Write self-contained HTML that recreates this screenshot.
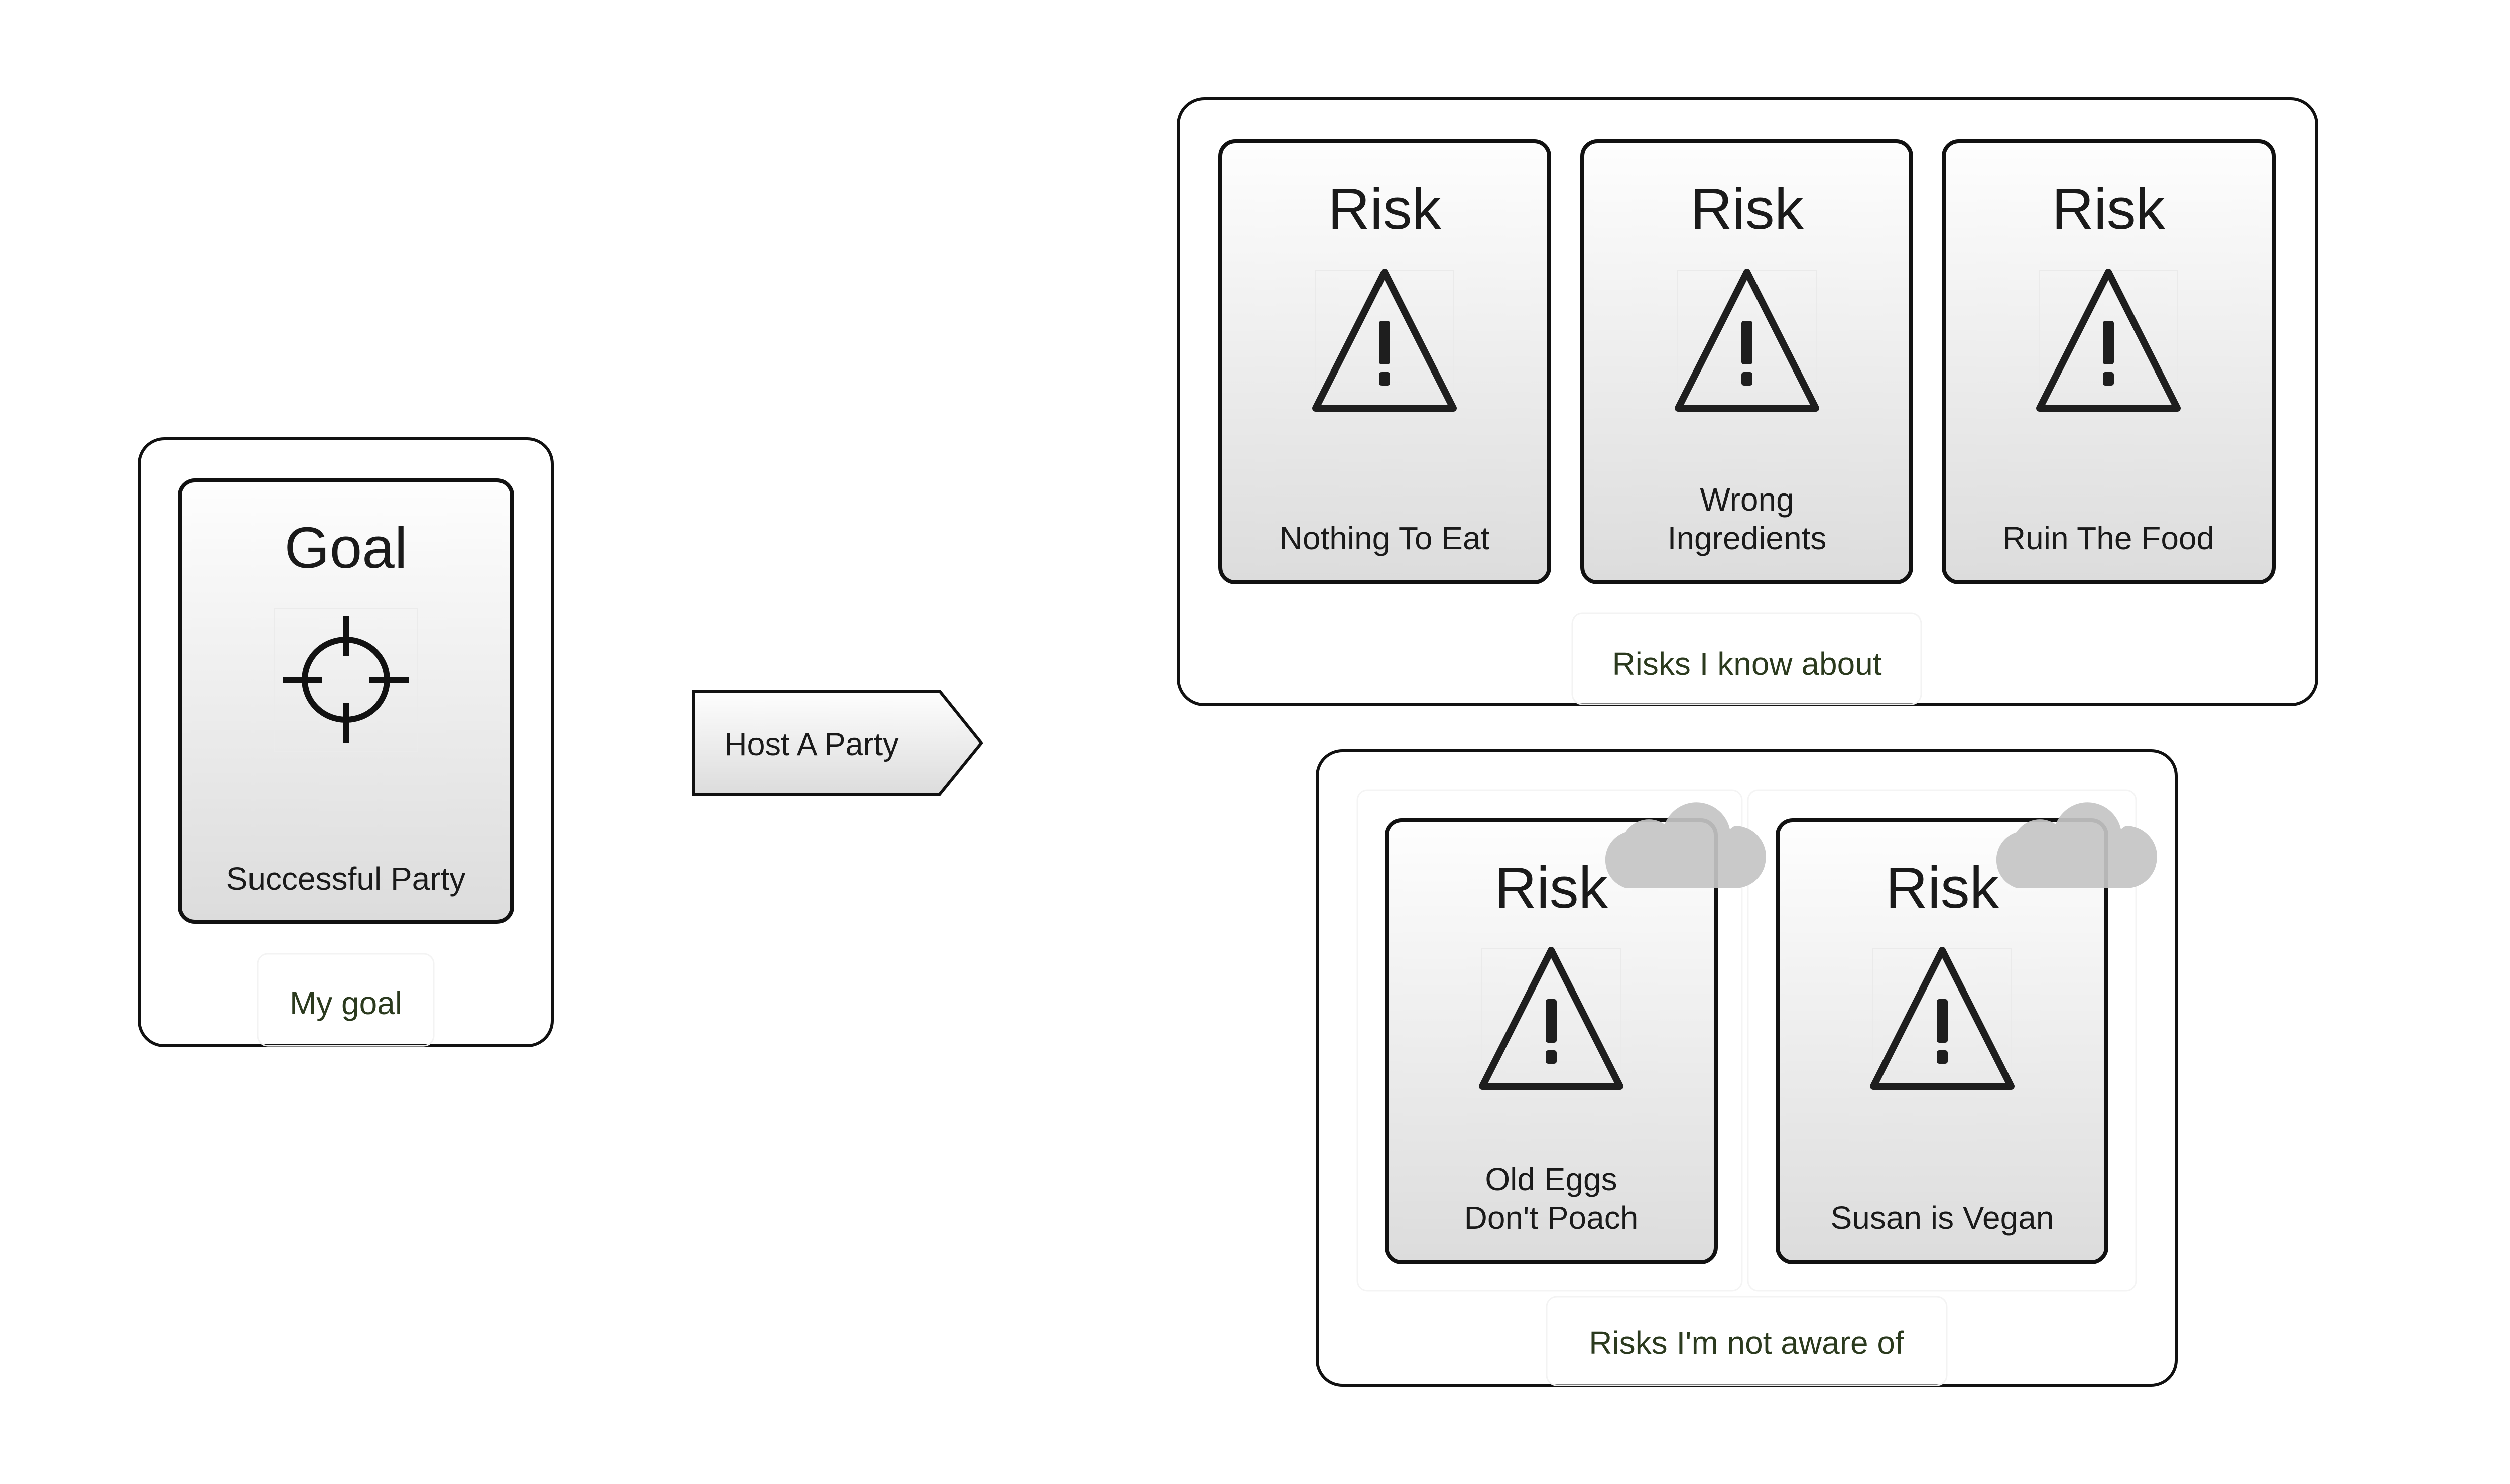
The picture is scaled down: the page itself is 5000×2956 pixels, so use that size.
<!DOCTYPE html>
<html><head><meta charset="utf-8"><style>
html,body{margin:0;padding:0;background:#fff;}
svg{display:block;}
text{font-family:"Liberation Sans",sans-serif;}
</style></head><body>
<svg width="5000" height="2956" viewBox="0 0 5000 2956" xmlns="http://www.w3.org/2000/svg">
<defs>
<linearGradient id="g" x1="0" y1="0" x2="0" y2="1">
<stop offset="0" stop-color="#fefefe"/><stop offset="1" stop-color="#dcdcdc"/>
</linearGradient>
<g id="tri">
<rect x="-138" y="-4" width="276" height="275" fill="none" stroke="#eaeaea" stroke-width="2"/>
<polygon points="0,0 137,271 -137,271" fill="none" stroke="#1e1e1e" stroke-width="14" stroke-linejoin="round"/>
<rect x="-11" y="97" width="22" height="87" rx="5" fill="#1e1e1e"/>
<rect x="-11" y="199" width="22" height="27" rx="5" fill="#1e1e1e"/>
</g>
<g id="cloud" fill="#c4c4c4" fill-opacity="0.92">
<path d="M484,147 L700,147 A62,62 0 0 0 700,23 A56,56 0 0 0 690,30 A68,68 0 0 0 560,20 A55,55 0 0 0 482,36 A58,58 0 0 0 484,147 Z"/>
</g>
</defs>

<!-- Goal group -->
<rect x="277" y="874" width="823" height="1209" rx="50" fill="#fff" stroke="#111" stroke-width="6"/>
<rect x="358" y="957" width="662" height="879" rx="30" fill="url(#g)" stroke="#111" stroke-width="8"/>
<text x="689" y="1131" font-size="116" text-anchor="middle" fill="#1a1a1a">Goal</text>
<rect x="547" y="1212" width="284" height="284" fill="none" stroke="#ebebeb" stroke-width="2"/>
<ellipse cx="689" cy="1354" rx="82" ry="80" fill="none" stroke="#111" stroke-width="12"/>
<path d="M564,1354 H642 M736,1354 H815 M689,1228 V1306 M689,1400 V1479" stroke="#111" stroke-width="12"/>
<text x="689" y="1772" font-size="64" text-anchor="middle" fill="#1a1a1a">Successful Party</text>
<rect x="513" y="1900" width="351" height="183" rx="20" fill="none" stroke="#f3f3f3" stroke-width="3"/>
<text x="689" y="2020" font-size="64" text-anchor="middle" fill="#2b3a1e">My goal</text>

<!-- Arrow -->
<polygon points="1381,1377 1872,1377 1955,1480 1872,1582 1381,1582" fill="url(#g)" stroke="#111" stroke-width="6"/>
<text x="1443" y="1504" font-size="63" fill="#1a1a1a">Host A Party</text>

<!-- Risks I know about -->
<rect x="2347" y="197" width="2268" height="1207" rx="52" fill="#fff" stroke="#111" stroke-width="6"/>
<g>
<rect x="2431" y="281" width="655" height="879" rx="30" fill="url(#g)" stroke="#111" stroke-width="8"/>
<text x="2758" y="456" font-size="116" text-anchor="middle" fill="#1a1a1a">Risk</text>
<use href="#tri" x="2758" y="542"/>
<text x="2758" y="1094" font-size="64" text-anchor="middle" fill="#1a1a1a">Nothing To Eat</text>
</g>
<g>
<rect x="3152" y="281" width="655" height="879" rx="30" fill="url(#g)" stroke="#111" stroke-width="8"/>
<text x="3480" y="456" font-size="116" text-anchor="middle" fill="#1a1a1a">Risk</text>
<use href="#tri" x="3480" y="542"/>
<text x="3480" y="1017" font-size="64" text-anchor="middle" fill="#1a1a1a">Wrong</text>
<text x="3480" y="1094" font-size="64" text-anchor="middle" fill="#1a1a1a">Ingredients</text>
</g>
<g>
<rect x="3872" y="281" width="657" height="879" rx="30" fill="url(#g)" stroke="#111" stroke-width="8"/>
<text x="4200" y="456" font-size="116" text-anchor="middle" fill="#1a1a1a">Risk</text>
<use href="#tri" x="4200" y="542"/>
<text x="4200" y="1094" font-size="64" text-anchor="middle" fill="#1a1a1a">Ruin The Food</text>
</g>
<rect x="3132" y="1222" width="695" height="181" rx="20" fill="none" stroke="#f3f3f3" stroke-width="3"/>
<text x="3480" y="1344" font-size="64" text-anchor="middle" fill="#2b3a1e">Risks I know about</text>

<!-- Risks I'm not aware of -->
<rect x="2624" y="1495" width="1711" height="1264" rx="50" fill="#fff" stroke="#111" stroke-width="6"/>
<rect x="2704" y="1574" width="766" height="997" rx="20" fill="none" stroke="#f4f4f4" stroke-width="3"/>
<rect x="3482" y="1574" width="773" height="997" rx="20" fill="none" stroke="#f4f4f4" stroke-width="3"/>
<g>
<rect x="2762" y="1634" width="656" height="880" rx="30" fill="url(#g)" stroke="#111" stroke-width="8"/>
<text x="3090" y="1808" font-size="116" text-anchor="middle" fill="#1a1a1a">Risk</text>
<use href="#tri" x="3090" y="1893"/>
<text x="3090" y="2371" font-size="64" text-anchor="middle" fill="#1a1a1a">Old Eggs</text>
<text x="3090" y="2448" font-size="64" text-anchor="middle" fill="#1a1a1a">Don't Poach</text>
<use href="#cloud" x="2756" y="1622"/>
</g>
<g>
<rect x="3541" y="1634" width="655" height="880" rx="30" fill="url(#g)" stroke="#111" stroke-width="8"/>
<text x="3869" y="1808" font-size="116" text-anchor="middle" fill="#1a1a1a">Risk</text>
<use href="#tri" x="3869" y="1893"/>
<text x="3869" y="2448" font-size="64" text-anchor="middle" fill="#1a1a1a">Susan is Vegan</text>
<use href="#cloud" x="3535" y="1622"/>
</g>
<rect x="3081" y="2583" width="797" height="176" rx="20" fill="none" stroke="#f3f3f3" stroke-width="3"/>
<text x="3479" y="2697" font-size="64" text-anchor="middle" fill="#2b3a1e">Risks I'm not aware of</text>
</svg>
</body></html>
